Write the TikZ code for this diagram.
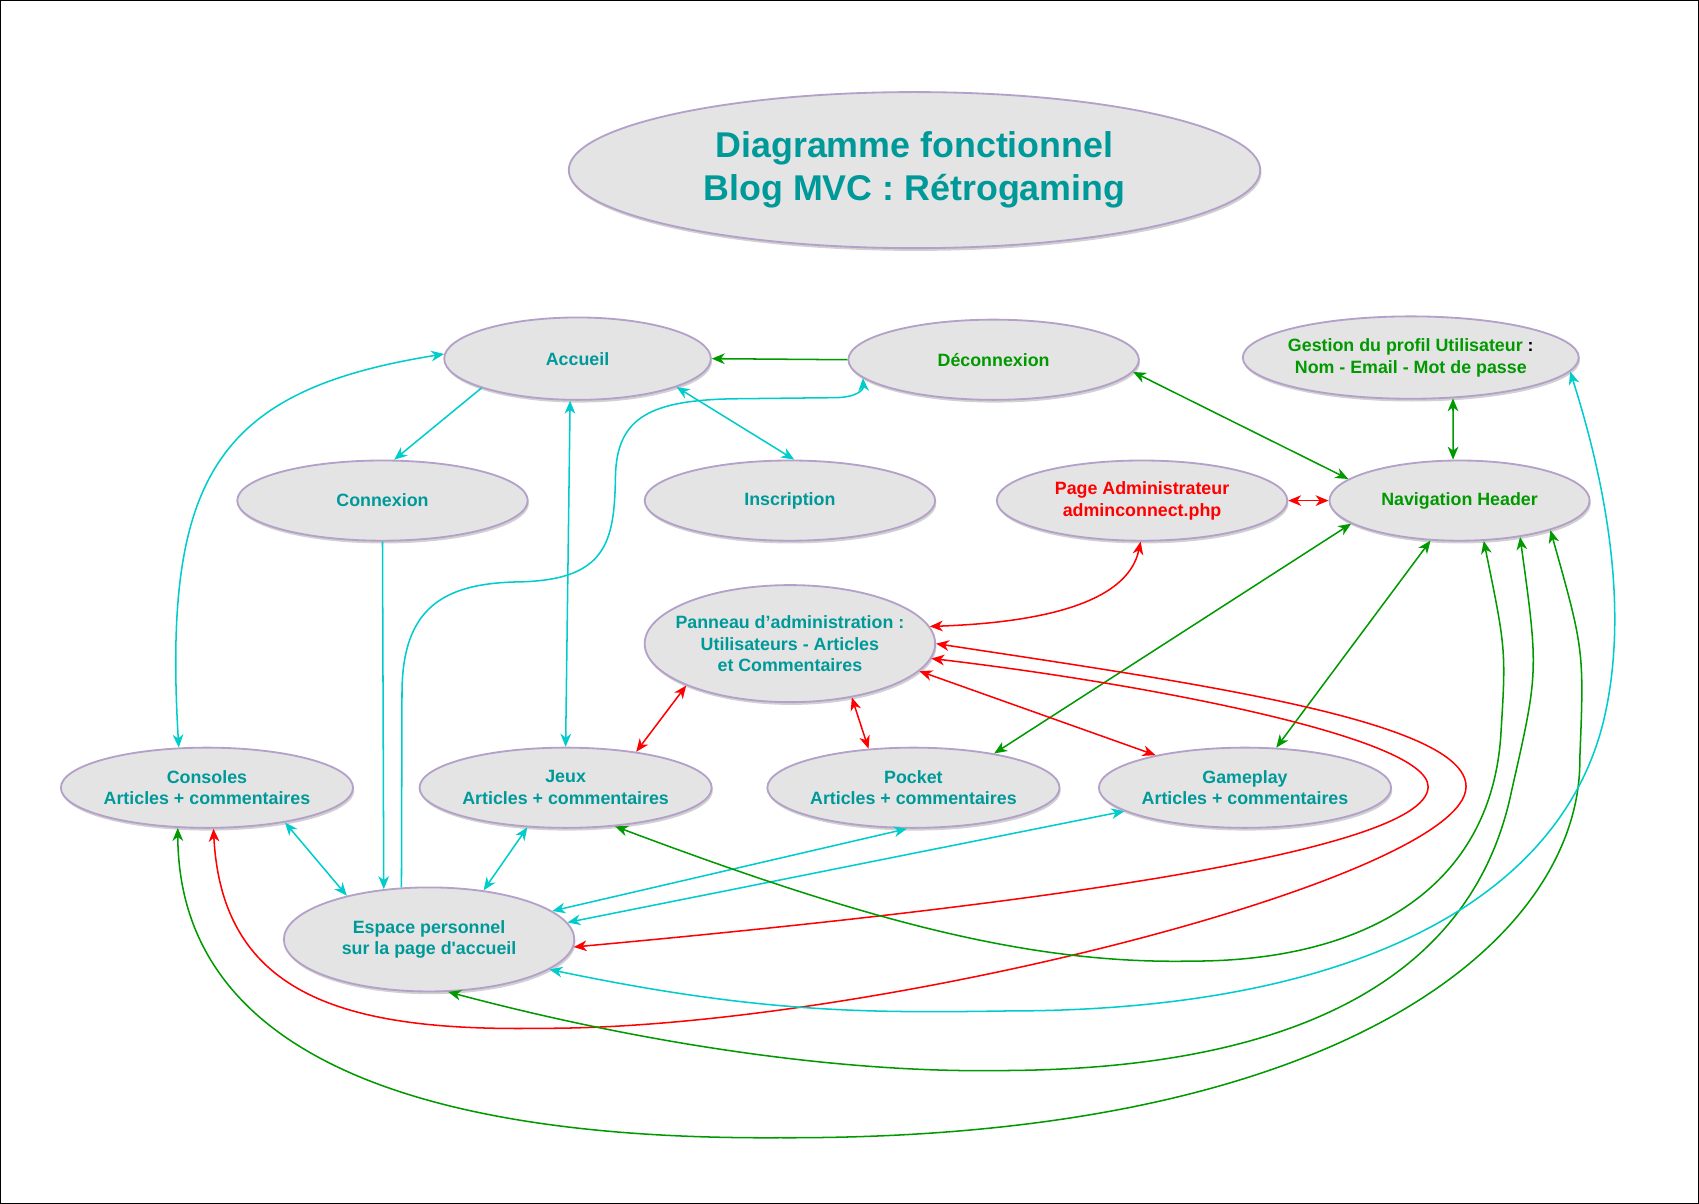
\documentclass[tikz,border=0pt]{standalone}
\usepackage{fontspec}
\setmainfont{Liberation Sans}
\usetikzlibrary{shapes.geometric,arrows.meta,shadows}

\definecolor{txtteal}{RGB}{0,153,153}
\definecolor{vert}{RGB}{0,153,0}
\definecolor{rouge}{RGB}{255,0,0}
\definecolor{cyanl}{RGB}{0,204,204}
\definecolor{ellfond}{RGB}{228,228,228}
\definecolor{ellbord}{RGB}{180,160,200}

\tikzset{
  etat/.style={ellipse, draw=ellbord, fill=ellfond, line width=1.2pt, inner sep=0pt,
    minimum width=6.7cm, minimum height=1.85cm, align=center, text=txtteal,
    font=\bfseries\fontsize{11.7}{14.2}\selectfont,
    drop shadow={shadow xshift=0.8pt, shadow yshift=-1.8pt, opacity=0.18, fill=black}},
  uni/.style={line width=1pt, -{Stealth[length=8.5pt,width=7pt,inset=2.6pt]}},
  bi/.style={line width=1pt, {Stealth[length=8.5pt,width=7pt,inset=2.6pt]}-{Stealth[length=8.5pt,width=7pt,inset=2.6pt]}}
}

\begin{document}
\begin{tikzpicture}[x=0.025cm,y=-0.025cm]
    \useasboundingbox (0,0) rectangle (1568,1111);
    \draw[line width=0.8pt] (0.6,0.6) rectangle (1567.4,1110.4);

    % Titre
    \node[etat, minimum width=15.95cm, minimum height=3.6cm, font=\bfseries\fontsize{23.5}{28.4}\selectfont] (titre) at (844,157) {Diagramme fonctionnel\\Blog MVC : Rétrogaming};

    % Pages du haut
    \node[etat, minimum width=6.15cm, minimum height=1.9cm] (accueil) at (533,331) {Accueil};
    \node[etat, text=vert] (deco) at (917,332) {Déconnexion};
    \node[etat, text=vert, minimum width=7.75cm, minimum height=1.9cm, inner xsep=-6pt] (profil) at (1302,330) {Gestion du profil Utilisateur \textcolor{black}{:}\\Nom - Email - Mot de passe};
    \node[etat] (connexion) at (353,462) {Connexion};
    \node[etat] (inscription) at (729,462) {Inscription};
    \node[etat, text=rouge] (admin) at (1054,462) {Page Administrateur\\adminconnect.php};
    \node[etat, text=vert, minimum width=6cm] (nav) at (1347,462) {Navigation Header};

    % Administration et rubriques
    \node[etat, minimum height=2.7cm, inner xsep=-10pt] (panneau) at (729,594) {Panneau d’administration :\\Utilisateurs - Articles\\ et Commentaires};
    \node[etat] (consoles) at (191,727) {Consoles\\Articles + commentaires};
    \node[etat] (jeux) at (522,727) {Jeux\\Articles + commentaires};
    \node[etat] (pocket) at (843,727) {Pocket\\Articles + commentaires};
    \node[etat] (gameplay) at (1149,727) {Gameplay\\Articles + commentaires};
    \node[etat, minimum height=2.4cm] (espace) at (396,867) {Espace personnel\\sur la page d\textquotesingle accueil};

    % Liens du haut
    \draw[uni, vert] (deco.west) -- (accueil.east);
    \draw[uni, cyanl] (accueil.197) -- (connexion.74);
    \draw[bi, cyanl] (accueil.344) -- (inscription.84);
    \draw[bi, cyanl] (accueil.260) -- (jeux.90);
    \draw[bi, cyanl] (accueil.178) .. controls (200,360) and (150,440) .. (consoles.125);
    \draw[uni, cyanl] (connexion.south) -- (espace.132.4);
    \draw[uni, cyanl] (espace.118) -- (371,640) .. controls (371,560) and (410,538) .. (480,537)
        .. controls (560,535) and (567,500) .. (568,440) .. controls (569,385) and (600,369) .. (680,368)
        -- (770,367) .. controls (790,367) and (797,360) .. (deco.188);
    \draw[bi, vert] (deco.355) -- (nav.169);
    \draw[bi, vert] (profil.316.7) -- (nav.99.2);
    \draw[bi, rouge] (admin.east) -- (nav.west);
    \draw[bi, rouge] (admin.268) .. controls (1040,560) and (950,575) .. (panneau.7);
    \draw[bi, vert] (nav.192) -- (pocket.23);
    \draw[bi, vert] (nav.234) -- (gameplay.52);

    % Panneau vers rubriques
    \draw[bi, rouge] (panneau.202) -- (jeux.27);
    \draw[bi, rouge] (panneau.319) -- (pocket.139);
    \draw[bi, rouge] (panneau.348.5) -- (gameplay.160);

    % Rubriques vers espace perso
    \draw[bi, cyanl] (consoles.336) -- (espace.152.6);
    \draw[bi, cyanl] (jeux.226) -- (espace.42);
    \draw[bi, cyanl] (pocket.261) -- (espace.13);
    \draw[bi, cyanl] (gameplay.191) -- (espace.7);

    % Grandes boucles
    \draw[bi, rouge] (panneau.354) .. controls (1050,630) and (1318,680) .. (1318,726)
        .. controls (1318,790) and (900,840) .. (espace.357.5);
    \draw[bi, rouge] (panneau.0) .. controls (1100,630) and (1353,665) .. (1353,726)
        .. controls (1353,810) and (800,950) .. (500,949) .. controls (320,952) and (205,920) .. (consoles.279);
    \draw[bi, vert] (jeux.322) .. controls (800,850) and (950,890) .. (1100,887)
        .. controls (1260,887) and (1375,820) .. (1385,680) .. controls (1390,600) .. (nav.301);
    \draw[bi, vert] (espace.290.7) .. controls (600,965) and (780,990) .. (920,988)
        .. controls (1200,988) and (1360,900) .. (1395,730) .. controls (1420,620) .. (nav.329.7);
    \draw[bi, vert] (consoles.234.4) .. controls (165,980) and (400,1052) .. (720,1050)
        .. controls (1250,1052) and (1460,860) .. (1458,700) .. controls (1462,600) .. (nav.342.9);
    \draw[bi, cyanl] (espace.346.4) .. controls (700,935) and (800,935) .. (930,933)
        .. controls (1250,933) and (1440,830) .. (1480,665) .. controls (1505,560) and (1480,440) .. (profil.355.7);
\end{tikzpicture}
\end{document}
